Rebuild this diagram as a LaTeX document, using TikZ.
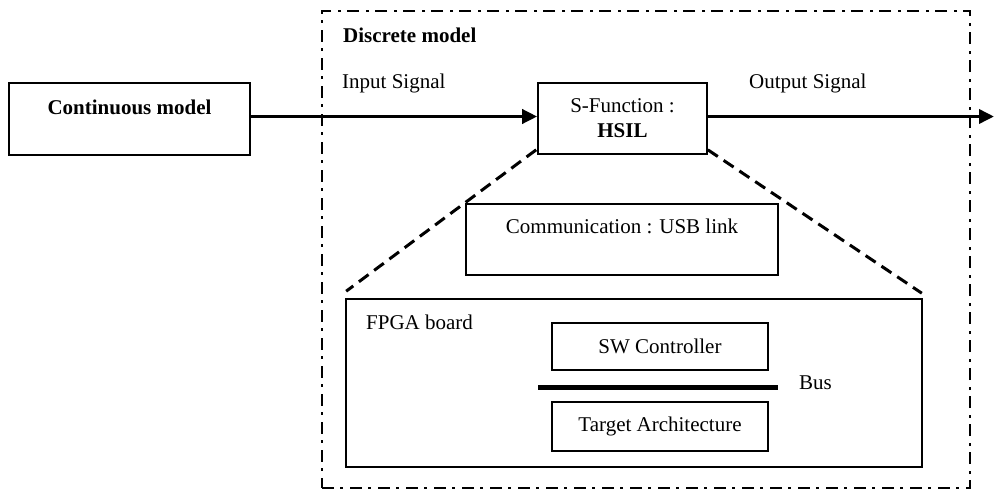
\documentclass[tikz,border=0pt]{standalone}
\usepackage{fontspec}
\setmainfont{Liberation Serif}
\usetikzlibrary{arrows.meta,backgrounds}

\tikzset{
  box/.style={draw, fill=white, line width=1.6pt, inner sep=0pt, font=\fontsize{21}{25}\selectfont},
  txt/.style={inner sep=0pt, font=\fontsize{21}{25}\selectfont},
  frame/.style={draw, line width=2pt, dash pattern=on 12pt off 6pt on 3pt off 7pt},
  sig/.style={line width=3.5pt, -{Triangle[length=15pt,width=14pt]}},
  zoomline/.style={line width=3pt, dash pattern=on 12pt off 7pt},
  busline/.style={line width=5pt}
}

\begin{document}
\begin{tikzpicture}[x=1pt, y=-1pt]
  \useasboundingbox (0,0) rectangle (994,491);

  % discrete model frame
  \node[frame, minimum width=648pt, minimum height=477pt] (discrete) at (646,249.5) {};
  \node[txt, anchor=base west, font=\fontsize{21}{25}\selectfont\bfseries] (dlabel) at (343,42) {Discrete model};

  % continuous model block
  \node[box, minimum width=241pt, text height=32pt, text depth=40pt, font=\fontsize{21}{25}\selectfont\bfseries] (cont) at (129.5,82) [anchor=north] {Continuous model};

  % S-function block
  \node[box, minimum width=169pt, minimum height=71pt, align=center] (sfun) at (622.5,118.5) {S-Function :\\\textbf{HSIL}};

  % signals
  \coordinate (out) at (994,116.5);
  \draw[sig] (cont.east |- out) -- (sfun.west |- out);
  \draw[sig] (sfun.east |- out) -- (out);
  \node[txt, anchor=base west] (inlbl) at (342,88) {Input Signal};
  \node[txt, anchor=base west] (outlbl) at (749,88) {Output Signal};

  % communication block
  \node[box, minimum width=312pt, text height=30pt, text depth=41pt] (comm) at (622,203) [anchor=north] {Communication : USB link};

  % FPGA board
  \node[box, minimum width=576pt, minimum height=168pt] (fpga) at (634,383) {};
  \node[txt, anchor=base west] (fpgalbl) at (366,329) {FPGA board};
  \node[box, minimum width=216pt, minimum height=47pt] (sw) at (660,346.5) {SW Controller};
  \node[box, minimum width=216pt, minimum height=49pt] (target) at (660,426.5) {Target Architecture};

  % bus
  \coordinate (busL) at (538,387);
  \coordinate (busR) at (778,387);
  \draw[busline] (busL) -- (busR);
  \node[txt, anchor=base west] (buslbl) at (799,389) {Bus};

  % zoom lines from the S-function down to the board, behind the blocks
  \begin{scope}[on background layer]
    \draw[zoomline] ([shift={(-1pt,5pt)}]sfun.south west) -- ([shift={(1pt,7pt)}]fpga.north west);
    \draw[zoomline] ([yshift=5pt]sfun.south east) -- ([shift={(-1pt,5pt)}]fpga.north east);
  \end{scope}
\end{tikzpicture}
\end{document}
